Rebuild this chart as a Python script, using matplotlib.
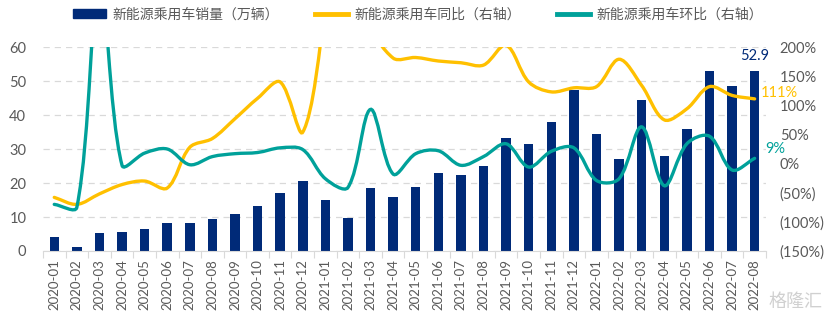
import numpy as np
import matplotlib.pyplot as plt
from matplotlib.path import Path
from matplotlib.patches import PathPatch
from matplotlib.lines import Line2D
from matplotlib.patches import Patch
from matplotlib.ticker import FuncFormatter, MultipleLocator

# 月份
months = ['2020-01', '2020-02', '2020-03', '2020-04', '2020-05', '2020-06',
          '2020-07', '2020-08', '2020-09', '2020-10', '2020-11', '2020-12',
          '2021-01', '2021-02', '2021-03', '2021-04', '2021-05', '2021-06',
          '2021-07', '2021-08', '2021-09', '2021-10', '2021-11', '2021-12',
          '2022-01', '2022-02', '2022-03', '2022-04', '2022-05', '2022-06',
          '2022-07', '2022-08']

# 销量（万辆）
sales = [4.0, 1.3, 5.4, 5.6, 6.6, 8.3, 8.2, 9.3, 11.0, 13.2, 17.0, 20.7,
         14.9, 9.6, 18.6, 15.8, 18.7, 22.8, 22.3, 25.0, 33.3, 31.6, 37.8, 47.5,
         34.5, 27.1, 44.4, 28.0, 35.9, 53.0, 48.5, 52.9]

# 同比（%）
yoy = [-58, -70, -52, -36, -30, -42, 28, 43, 77, 112, 140, 54,
       273, 640, 244, 181, 182, 176, 173, 169, 203, 140, 123, 130,
       132, 179, 134, 75, 94, 132, 117, 111]

# 环比（%）
mom = [-70, -75, 315, -3, 18, 25, -2, 12, 17, 19, 27, 24,
       -26, -41, 93, -18, 17, 22, -3, 12, 34, -6, 21, 27,
       -29, -26, 63, -38, 34, 47, -11, 9]

navy = '#002a78'
yellow = '#ffc000'
teal = '#00a19a'
grey_txt = '#595959'
grid_c = '#d9d9d9'

plt.rcParams['font.family'] = ['Lato', 'Noto Sans CJK SC', 'DejaVu Sans']


def smooth_path(x, y, sx, sy, t=1/3):
    # 平滑曲线：按屏幕上的弦长分配控制点，贝塞尔分段
    pts = np.column_stack([x, y]).astype(float)
    scr = pts * [sx, sy]
    n = len(pts)
    seg = np.hypot(*np.diff(scr, axis=0).T)
    c_in = [None] * n
    c_out = [None] * n
    for i in range(n):
        if i == 0:
            tan = scr[1] - scr[0]
            c_out[i] = scr[i] + tan * t
            continue
        if i == n - 1:
            tan = scr[i] - scr[i - 1]
            c_in[i] = scr[i] - tan * t
            continue
        tan = scr[i + 1] - scr[i - 1]
        d0, d1 = seg[i - 1], seg[i]
        c_in[i] = scr[i] - tan * t * d0 / (d0 + d1)
        c_out[i] = scr[i] + tan * t * d1 / (d0 + d1)
    verts = [scr[0]]
    codes = [Path.MOVETO]
    for i in range(n - 1):
        verts += [c_out[i], c_in[i + 1], scr[i + 1]]
        codes += [Path.CURVE4] * 3
    verts = np.array(verts) / [sx, sy]
    return Path(verts, codes)


W, H = 8.31, 3.22
pos = [0.0517, 0.2205, 0.870, 0.6335]
fig = plt.figure(figsize=(W, H), dpi=100)
ax = fig.add_axes(pos)
ax2 = ax.twinx()

x = np.arange(len(months))
ax.bar(x, sales, width=0.42, color=navy, zorder=2)

ax.set_xlim(-0.5, len(months) - 0.5)
ax.set_ylim(0, 60)
ax.yaxis.set_major_locator(MultipleLocator(10))
ax.set_xticks(x)
ax.set_xticklabels(months, rotation=90, fontsize=9.5, color=grey_txt)
ax.set_xticks(np.arange(-0.5, len(months)), minor=True)
ax.tick_params(axis='x', which='major', length=0, pad=6)
ax.tick_params(axis='x', which='minor', length=5, color=grid_c, width=0.8)
ax.tick_params(axis='y', length=0, labelsize=10.5, labelcolor=grey_txt, pad=12)
ax.grid(axis='y', color=grid_c, linestyle=(0, (5, 4)), linewidth=0.9, zorder=0)
ax.set_axisbelow(True)
for s in ['top', 'left', 'right']:
    ax.spines[s].set_visible(False)
ax.spines['bottom'].set_color(grid_c)

y2min, y2max = -150, 200
ax2.set_ylim(y2min, y2max)
ax2.yaxis.set_major_locator(MultipleLocator(50))
ax2.yaxis.set_major_formatter(FuncFormatter(
    lambda v, p: f'({abs(v):.0f}%)' if v < 0 else f'{v:.0f}%'))
ax2.tick_params(axis='y', length=0, labelsize=10.5, labelcolor=grey_txt, pad=10)
for s in ['top', 'left', 'right', 'bottom']:
    ax2.spines[s].set_visible(False)

# 每单位数据对应的像素
sx = W * 100 * pos[2] / len(months)
sy = H * 100 * pos[3] / (y2max - y2min)

ax2.add_patch(PathPatch(smooth_path(x, yoy, sx, sy), fill=False, edgecolor=yellow,
                        linewidth=2.4, capstyle='round', zorder=3))
ax2.add_patch(PathPatch(smooth_path(x, mom, sx, sy), fill=False, edgecolor=teal,
                        linewidth=2.4, capstyle='round', zorder=3))

# 末值标注
ax.annotate(f'{sales[-1]:.1f}', (x[-1], sales[-1]), xytext=(0, 6),
            textcoords='offset points', ha='center', va='bottom',
            color=navy, fontsize=10.5, clip_on=False)
ax2.annotate(f'{yoy[-1]}%', (x[-1], yoy[-1]), xytext=(4.5, 4),
             textcoords='offset points', ha='left', va='center',
             color=yellow, fontsize=10.5, annotation_clip=False)
ax2.annotate(f'{mom[-1]}%', (x[-1], mom[-1]), xytext=(8, 7),
             textcoords='offset points', ha='left', va='center',
             color=teal, fontsize=10.5, annotation_clip=False)

handles = [Patch(color=navy),
           Line2D([], [], color=yellow, linewidth=3.5),
           Line2D([], [], color=teal, linewidth=3.5)]
labels = ['新能源乘用车销量（万辆）', '新能源乘用车同比（右轴）', '新能源乘用车环比（右轴）']
fig.legend(handles, labels, loc='center', bbox_to_anchor=(0.503, 0.955), ncol=3,
           frameon=False, handlelength=2.4, handleheight=0.6, handletextpad=0.45,
           columnspacing=2.6, prop={'family': 'Noto Sans CJK SC', 'size': 10},
           labelcolor=grey_txt)

fig.text(0.99, 0.035, '格隆汇', ha='right', va='bottom', fontsize=13,
         color='#d0d0d0', family='Noto Sans CJK SC')

fig.savefig('out.png', dpi=100)
